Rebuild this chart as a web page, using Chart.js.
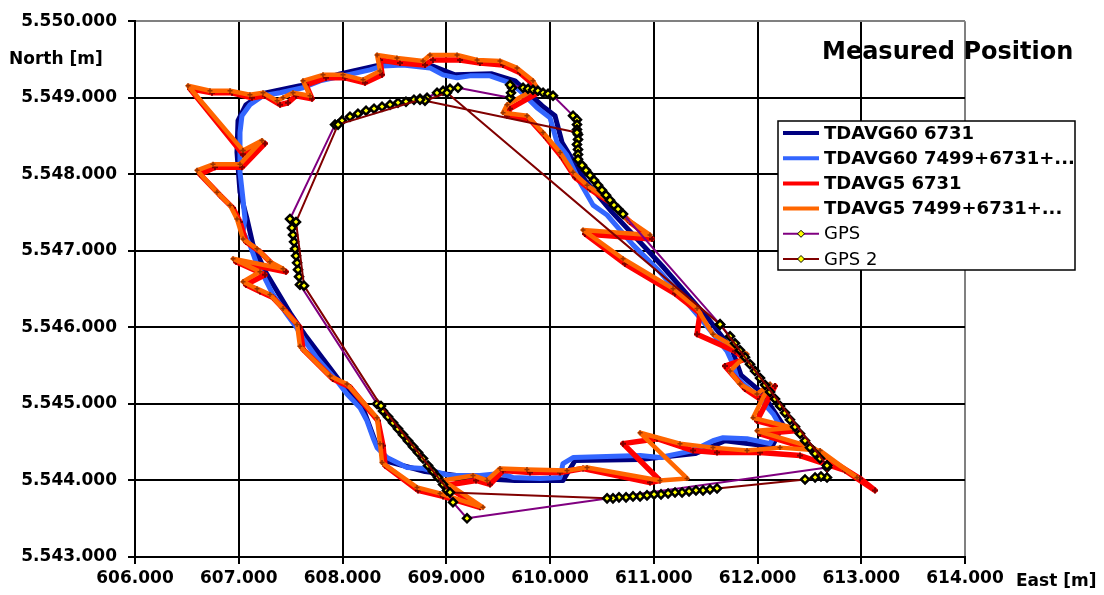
<!DOCTYPE html>
<html>
<head>
<meta charset="utf-8">
<script src="https://cdn.jsdelivr.net/npm/chart.js@4.4.1/dist/chart.umd.min.js"></script>
<style>
html, body { margin: 0; padding: 0; background: #fff; }
#wrap { width: 1104px; height: 595px; }
</style>
</head>
<body>
<div id="wrap"><canvas id="chartPosition" width="1104" height="595"></canvas></div>
<script>
// series names (legend order)
const seriesNames = ['TDAVG60 6731', 'TDAVG60 7499+6731+...', 'TDAVG5 6731', 'TDAVG5 7499+6731+...', 'GPS', 'GPS 2'];

// axis ranges / ticks
const eastTicks = [606000, 607000, 608000, 609000, 610000, 611000, 612000, 613000, 614000];
const northTicks = [5543000, 5544000, 5545000, 5546000, 5547000, 5548000, 5549000, 5550000];

// TDAVG60 6731
const avg60East = [606983,606993,607070,607224,607590,607976,608362,608603,608863,609084,609441,609663,609923,610048,610116,610338,610598,611080,611523,611754,611841,612044,612246,612140,611687,611398,610868,610241,610125,609663,609325,608795,608439,608313,608207,607995,607648,607504,607263,607137,607080,607012,606983];
const avg60North = [5548286,5548701,5548909,5549052,5549156,5549312,5549429,5549455,5549416,5549299,5549312,5549221,5548896,5548766,5548416,5547922,5547506,5546805,5546117,5545714,5545377,5545143,5544727,5544442,5544519,5544351,5544273,5544260,5544000,5544000,5544026,5544117,5544247,5544519,5544909,5545260,5545883,5546169,5546714,5547078,5547416,5547766,5548286];

// TDAVG60 7499+6731+...
const avg60AllEast = [607012,607012,607031,607108,607234,607398,607619,607783,608005,608265,608390,608583,608843,608969,609104,609229,609422,609615,609711,609875,610000,610068,610164,610289,610415,610550,610800,611032,611253,611475,611706,611764,611803,611995,612150,612217,612121,611899,611668,611571,611379,611060,610868,610222,610125,610097,609904,609643,609518,609325,609036,608776,608622,608429,608333,608294,608236,608169,608043,607947,607754,607619,607562,607465,607330,607234,607176,607108,607041,607060,607041,607012,607012];
const avg60AllNorth = [5548260,5548545,5548766,5548909,5549026,5549065,5549130,5549221,5549286,5549364,5549416,5549429,5549390,5549299,5549260,5549286,5549286,5549195,5549091,5548870,5548740,5548416,5548247,5547896,5547597,5547468,5547078,5546766,5546429,5546078,5545688,5545519,5545338,5545104,5544870,5544714,5544481,5544545,5544558,5544519,5544390,5544299,5544325,5544299,5544221,5544039,5544026,5544039,5544091,5544065,5544065,5544156,5544169,5544299,5544429,5544558,5544779,5544948,5545130,5545299,5545597,5545857,5545987,5546169,5546429,5546688,5546818,5547078,5547247,5547416,5547675,5548026,5548260];

// TDAVG5 6731
const avg5East = [607041,606530,606742,606935,607128,607253,607398,607475,607552,607706,607648,607841,608024,608217,608381,608362,608554,608795,608872,609133,609325,609547,609711,609856,609884,609615,609586,609807,609962,610116,610241,610386,610578,610771,610983,610338,610723,611205,611446,611417,611783,611880,611687,611880,612024,612169,611995,612362,612024,612555,612988,613133,612844,612410,612024,611610,611379,611032,610704,611060,610964,610318,610097,609807,609547,609422,609287,608988,609325,608969,608728,608410,608390,608342,608072,607908,607619,607590,607455,607330,607205,607070,607253,606974,607455,607330,607205,607070,607012,606945,606819,606627,606771,607031,607253,607041];
const avg5North = [5548260,5549117,5549065,5549065,5549000,5549026,5548909,5548935,5549026,5548987,5549169,5549260,5549260,5549195,5549299,5549494,5549455,5549429,5549494,5549494,5549455,5549429,5549325,5549156,5549065,5548857,5548766,5548714,5548481,5548221,5547961,5547805,5547636,5547377,5547156,5547221,5546831,5546442,5546182,5545909,5545688,5545584,5545494,5545195,5545065,5545234,5544779,5544649,5544610,5544390,5544026,5543870,5544130,5544325,5544364,5544364,5544390,5544545,5544481,5544000,5543974,5544156,5544104,5544104,5544130,5543948,5544000,5543935,5543649,5543792,5543870,5544195,5544455,5544779,5545221,5545325,5545714,5546000,5546208,5546390,5546468,5546558,5546688,5546857,5546727,5546818,5546987,5547117,5547377,5547558,5547727,5548000,5548091,5548091,5548403,5548260];

// TDAVG5 7499+6731+...
const avg5AllEast = [607041,606511,606723,606916,607108,607234,607369,607427,607523,607687,607619,607812,608005,608198,608362,608333,608525,608776,608843,609104,609297,609518,609682,609836,609875,609586,609547,609778,609933,610097,610222,610357,610550,610742,610964,610318,610704,611186,611417,611571,611899,611735,611831,611995,612121,611957,612342,611995,612535,612959,612603,612217,611899,611571,611253,610868,611321,611060,610357,610164,609778,609518,609393,609258,608969,609354,608940,608718,608381,608362,608333,608043,607880,607590,607562,607427,607301,607176,607041,607205,606945,607427,607301,607176,607041,606983,606916,606790,606598,606752,607012,607224,607041];
const avg5AllNorth = [5548312,5549156,5549091,5549091,5549039,5549065,5548961,5549000,5549065,5549026,5549221,5549299,5549299,5549234,5549351,5549558,5549519,5549481,5549558,5549558,5549494,5549481,5549390,5549221,5549130,5548909,5548805,5548766,5548545,5548286,5548026,5547857,5547675,5547416,5547208,5547273,5546896,5546506,5546247,5545909,5545649,5545429,5545260,5545130,5545260,5544818,5544688,5544649,5544429,5544039,5544390,5544429,5544390,5544429,5544481,5544623,5544026,5544000,5544169,5544130,5544143,5544156,5544000,5544065,5544000,5543649,5543831,5543909,5544234,5544481,5544818,5545260,5545364,5545753,5546039,5546247,5546429,5546506,5546597,5546727,5546896,5546766,5546857,5547026,5547156,5547416,5547597,5547766,5548052,5548130,5548130,5548442,5548312];

// GPS
const gpsEast = [612670,609200,609065,609007,608969,608921,608872,608824,608776,608728,608680,608631,608583,608535,608487,608439,608390,608333,607590,607581,607571,607562,607552,607542,607533,607523,607513,607494,607928,607995,608072,608149,608227,608304,608381,608458,608535,608612,608689,608747,608815,608911,608969,609036,609113,609615,609624,609634,609615,609740,609788,609836,609884,609933,609981,610029,610222,610260,610260,610260,610270,610270,610260,610270,610270,610270,610309,610347,610386,610424,610463,610501,610540,610578,610617,610656,610704,611639,611735,611783,611831,611880,611928,611976,612024,612073,612121,612169,612217,612265,612313,612362,612410,612458,612506,612555,612603,612670];
const gpsNorth = [5544169,5543506,5543714,5543870,5543948,5544039,5544117,5544195,5544286,5544364,5544442,5544519,5544597,5544675,5544753,5544831,5544909,5545000,5546558,5546662,5546753,5546844,5546935,5547026,5547117,5547208,5547299,5547416,5548649,5548701,5548753,5548792,5548831,5548857,5548883,5548909,5548935,5548948,5548974,5548987,5549000,5549065,5549091,5549117,5549130,5549000,5549065,5549130,5549169,5549130,5549117,5549104,5549091,5549065,5549052,5549026,5548766,5548714,5548649,5548584,5548519,5548455,5548390,5548325,5548260,5548195,5548117,5548052,5547987,5547922,5547857,5547792,5547727,5547662,5547597,5547545,5547481,5546039,5545883,5545792,5545701,5545610,5545519,5545429,5545338,5545247,5545156,5545065,5544974,5544883,5544792,5544701,5544610,5544519,5544429,5544351,5544286,5544195];

// GPS 2
const gps2East = [610260,608795,609007,611639,612670,612670,612612,612555,612458,611610,611542,611475,611407,611340,611273,611205,611138,611070,611003,610935,610868,610800,610733,610665,610607,610550,609036,608371,607629,607552,607957,608747];
const gps2North = [5548545,5548961,5549065,5546039,5544195,5544039,5544052,5544039,5544013,5543896,5543883,5543870,5543870,5543857,5543844,5543844,5543831,5543818,5543818,5543805,5543792,5543792,5543779,5543779,5543766,5543766,5543844,5544974,5546545,5547377,5548649,5548974];

const toPoints = (xs, ys) => xs.map((x, i) => ({ x: x, y: ys[i] }));
const fmt = v => String(v).replace(/\B(?=(\d{3})+(?!\d))/g, '.');
const tickFont = { family: 'DejaVu Sans', weight: 'bold', size: 17 };

// texts and the floating legend box
const extrasPlugin = {
    id: 'extras',
    afterDraw(chart) {
        const c = chart.ctx;
        c.save();
        c.fillStyle = '#000';
        c.textAlign = 'left';
        c.textBaseline = 'alphabetic';
        c.font = 'bold 17px "DejaVu Sans"';
        c.fillText('North [m]', 9, 64);
        c.fillText('East [m]', 1016, 586);
        c.font = 'bold 24px "DejaVu Sans"';
        c.fillText('Measured Position', 822, 59);

        const bx = 778, by = 121, bw = 297, bh = 149;
        c.fillStyle = '#fff';
        c.fillRect(bx, by, bw, bh);
        c.strokeStyle = '#000';
        c.lineWidth = 1.5;
        c.strokeRect(bx, by, bw, bh);
        chart.data.datasets.forEach((ds, i) => {
            const y = 133 + i * 25.2;
            c.strokeStyle = ds.borderColor;
            c.lineWidth = ds.borderWidth > 3 ? 4 : 2;
            c.beginPath();
            c.moveTo(783, y);
            c.lineTo(819, y);
            c.stroke();
            if (ds.pointStyle === 'rectRot') {
                c.fillStyle = '#FFFF00';
                c.strokeStyle = '#000';
                c.lineWidth = 1;
                c.beginPath();
                c.moveTo(801, y - 3.5); c.lineTo(804.5, y); c.lineTo(801, y + 3.5); c.lineTo(797.5, y);
                c.closePath();
                c.fill();
                c.stroke();
            }
            c.fillStyle = '#000';
            c.textBaseline = 'middle';
            c.font = i < 4 ? 'bold 18px "DejaVu Sans"' : '18px "DejaVu Sans"';
            c.fillText(ds.label, 824, y + 1);
        });
        c.restore();
    }
};

const lineDefaults = { showLine: true, borderJoinStyle: 'round', borderCapStyle: 'round', tension: 0 };

const ctx = document.getElementById('chartPosition').getContext('2d');
const chartPosition = new Chart(ctx, {
    type: 'scatter',
    data: {
        datasets: [{
            ...lineDefaults,
            label: seriesNames[0],
            data: toPoints(avg60East, avg60North),
            borderColor: '#000080',
            borderWidth: 5,
            pointRadius: 0,
            order: 6
        }, {
            ...lineDefaults,
            label: seriesNames[1],
            data: toPoints(avg60AllEast, avg60AllNorth),
            borderColor: '#3366FF',
            borderWidth: 5,
            pointRadius: 0,
            order: 5
        }, {
            ...lineDefaults,
            label: seriesNames[2],
            data: toPoints(avg5East, avg5North),
            borderColor: '#FF0000',
            borderWidth: 5.5,
            pointStyle: 'cross',
            pointRadius: 3,
            pointBorderColor: '#800000',
            pointBorderWidth: 2,
            order: 4
        }, {
            ...lineDefaults,
            label: seriesNames[3],
            data: toPoints(avg5AllEast, avg5AllNorth),
            borderColor: '#FF6600',
            borderWidth: 4.5,
            pointStyle: 'cross',
            pointRadius: 2.5,
            pointBorderColor: '#993300',
            pointBorderWidth: 1.5,
            order: 3
        }, {
            ...lineDefaults,
            label: seriesNames[4],
            data: toPoints(gpsEast, gpsNorth),
            borderColor: '#800080',
            borderWidth: 2,
            pointStyle: 'rectRot',
            pointRadius: 4,
            pointBackgroundColor: '#FFFF00',
            pointBorderColor: '#000',
            pointBorderWidth: 2.5,
            order: 2
        }, {
            ...lineDefaults,
            label: seriesNames[5],
            data: toPoints(gps2East, gps2North),
            borderColor: '#800000',
            borderWidth: 2,
            pointStyle: 'rectRot',
            pointRadius: 4,
            pointBackgroundColor: '#FFFF00',
            pointBorderColor: '#000',
            pointBorderWidth: 2.5,
            order: 1
        }]
    },
    options: {
        responsive: false,
        devicePixelRatio: 1,
        animation: false,
        events: [],
        layout: { padding: { top: 18, right: 139, left: 0, bottom: 0 } },
        plugins: {
            legend: { display: false },
            tooltip: { enabled: false }
        },
        scales: {
            x: {
                type: 'linear',
                min: eastTicks[0],
                max: eastTicks[eastTicks.length - 1],
                afterBuildTicks: s => { s.ticks = eastTicks.map(v => ({ value: v })); },
                afterFit: s => { s.height = 38; },
                ticks: { callback: v => fmt(v), font: tickFont, color: '#000', padding: 4, maxRotation: 0, autoSkip: false },
                grid: {
                    color: c => (c.tick && c.tick.value === 614000) ? '#808080' : '#000',
                    lineWidth: 2,
                    tickLength: 7,
                    tickColor: '#000'
                },
                border: { color: '#000', width: 2 }
            },
            y: {
                type: 'linear',
                min: northTicks[0],
                max: northTicks[northTicks.length - 1],
                afterBuildTicks: s => { s.ticks = northTicks.map(v => ({ value: v })); },
                afterFit: s => { s.width = 135; },
                ticks: { callback: v => fmt(v), font: tickFont, color: '#000', padding: 11, autoSkip: false },
                grid: {
                    color: c => (c.tick && c.tick.value === 5550000) ? '#808080' : '#000',
                    lineWidth: 2,
                    tickLength: 7,
                    tickColor: '#000'
                },
                border: { color: '#000', width: 2 }
            }
        }
    },
    plugins: [extrasPlugin]
});
</script>
</body>
</html>
